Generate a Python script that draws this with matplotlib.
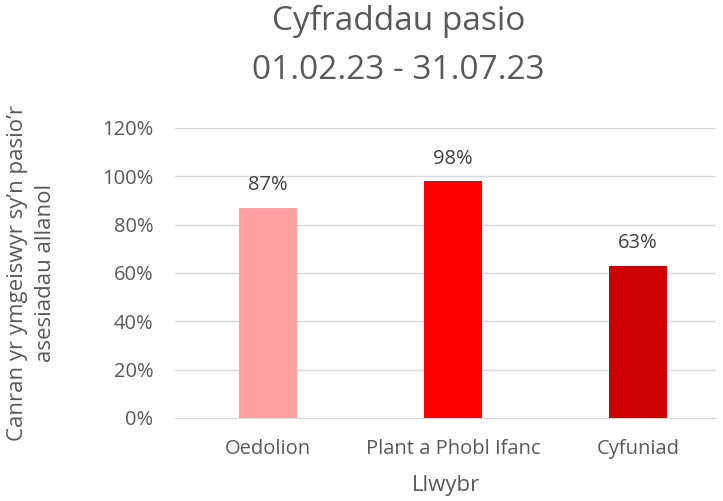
import matplotlib.pyplot as plt
from matplotlib.ticker import PercentFormatter

plt.rcParams['font.family'] = ['Open Sans', 'DejaVu Sans']

categories = ['Oedolion', 'Plant a Phobl Ifanc', 'Cyfuniad']
pass_rates = [87, 98, 63]
bar_colors = ['#FF9F9F', '#FF0000', '#D00000']
grey = '#595959'

fig = plt.figure(figsize=(7.23, 5.01), dpi=100)
ax = fig.add_axes([0.2427, 0.1657, 0.747, 0.579])

x = range(len(categories))
bars = ax.bar(x, pass_rates, width=0.31, color=bar_colors, zorder=3)
for b, v in zip(bars, pass_rates):
    ax.annotate(f'{v}%', (b.get_x() + b.get_width() / 2, v), xytext=(0, 9),
                textcoords='offset points', ha='center', va='bottom',
                fontsize=14.5, color='#404040')

ax.set_ylim(0, 120)
ax.set_xlim(-0.5, 2.42)
ax.set_yticks(range(0, 121, 20))
ax.yaxis.set_major_formatter(PercentFormatter(decimals=0))
ax.set_xticks(list(x))
ax.set_xticklabels(categories)
ax.grid(axis='y', color='#D9D9D9', linewidth=1, zorder=0)
for s in ['top', 'right', 'left']:
    ax.spines[s].set_visible(False)
ax.spines['bottom'].set_color('#D9D9D9')
ax.tick_params(axis='both', length=0, labelsize=14.5, labelcolor=grey)
ax.tick_params(axis='x', pad=15)
ax.tick_params(axis='y', pad=16)

ax.set_xlabel('Llwybr', fontsize=16, color=grey, labelpad=12)
ax.set_ylabel('Canran yr ymgeiswyr sy\u2019n pasio\u2019r\nasesiadau allanol', fontsize=16,
              color=grey, labelpad=33, linespacing=1.45)
fig.suptitle('Cyfraddau pasio\n01.02.23 - 31.07.23', fontsize=24, color=grey, y=0.99,
             x=0.551, linespacing=1.65)

fig.savefig('out.png', dpi=100)
